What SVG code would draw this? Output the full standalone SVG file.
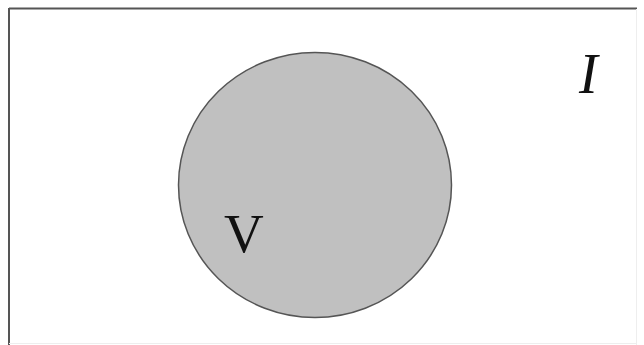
<svg xmlns="http://www.w3.org/2000/svg" width="644" height="345" viewBox="0 0 644 345">
<style>
.lbl{font-family:"Liberation Serif","Times New Roman",serif;fill:#111;}
</style>
<rect width="644" height="345" fill="#fff"/>
<g id="universe">
<line x1="9" y1="8.5" x2="637" y2="8.5" stroke="#555" stroke-width="2"/>
<line x1="9" y1="8" x2="9" y2="345" stroke="#555" stroke-width="2"/>
<line x1="636.5" y1="9" x2="636.5" y2="345" stroke="#eee" stroke-width="1"/>
<line x1="9" y1="343.5" x2="637" y2="343.5" stroke="#eee" stroke-width="1"/>
<text class="lbl" x="579" y="93" font-size="56" font-style="italic">I</text>
</g>
<g id="set-v">
<ellipse cx="315" cy="185" rx="136.5" ry="132.5" fill="#c0c0c0" stroke="#555" stroke-width="1.5"/>
<text class="lbl" x="224" y="252" font-size="55">V</text>
</g>
</svg>
